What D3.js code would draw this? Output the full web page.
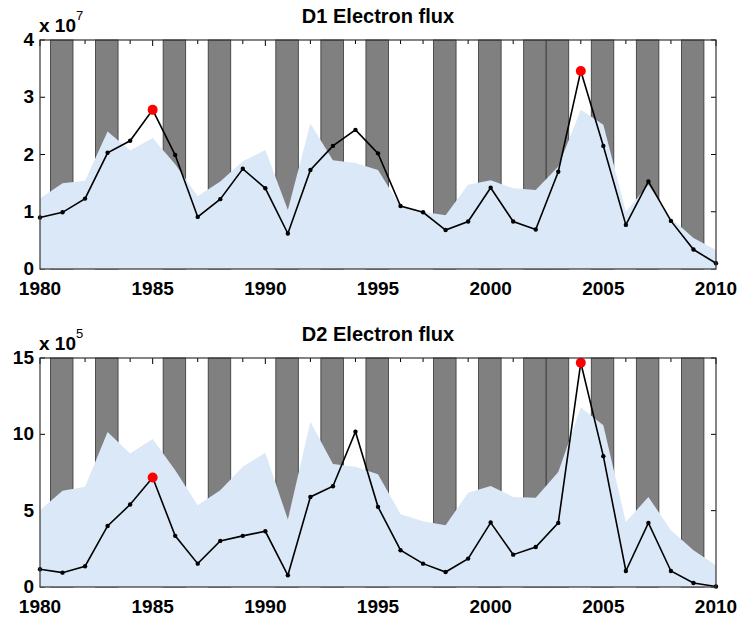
<!DOCTYPE html>
<meta charset="utf-8">
<style>
body { margin: 0; background: #fff; }
text { font-family: "Liberation Sans", Arial, sans-serif; font-weight: bold; fill: #000; }
</style>
<svg width="741" height="617"></svg>
<script src="https://d3js.org/d3.v7.min.js"></script>
<script>

var years = d3.range(1980, 2011);

// D1 electron flux (units of 1e7)
var d1Flux = [0.90, 0.99, 1.23, 2.03, 2.24, 2.78, 1.99, 0.91, 1.22, 1.75,
              1.41, 0.62, 1.73, 2.15, 2.43, 2.02, 1.10, 0.99, 0.68, 0.83,
              1.42, 0.83, 0.69, 1.70, 3.46, 2.15, 0.77, 1.53, 0.84, 0.34, 0.10];
var d1Band = [1.23, 1.50, 1.54, 2.40, 2.07, 2.29, 1.83, 1.27, 1.53, 1.88,
              2.08, 1.03, 2.54, 1.90, 1.85, 1.73, 1.09, 1.00, 0.94, 1.47,
              1.55, 1.41, 1.38, 1.79, 2.78, 2.52, 1.00, 1.47, 0.89, 0.54, 0.33];

// D2 electron flux (units of 1e5)
var d2Flux = [1.16, 0.94, 1.36, 4.00, 5.40, 7.17, 3.35, 1.53, 3.02, 3.35,
              3.65, 0.77, 5.90, 6.60, 10.17, 5.25, 2.41, 1.53, 0.98, 1.86,
              4.22, 2.12, 2.62, 4.20, 14.69, 8.57, 1.05, 4.20, 1.05, 0.26, 0.03];
var d2Band = [5.03, 6.30, 6.56, 10.16, 8.75, 9.69, 7.65, 5.36, 6.34, 7.87,
              8.79, 4.42, 10.82, 8.05, 7.87, 7.39, 4.77, 4.31, 4.05, 6.17,
              6.62, 5.90, 5.84, 7.54, 11.76, 10.60, 4.26, 5.90, 3.72, 2.41, 1.42];

var barYears = [1981, 1983, 1986, 1988, 1991, 1993, 1995, 1998, 2000, 2002, 2003, 2005, 2007, 2009];
var redYears = [1985, 2004];
var xTickLabels = [1980, 1985, 1990, 1995, 2000, 2005, 2010];

var svg = d3.select("svg");
svg.append("rect").attr("width", 741).attr("height", 617).attr("fill", "#fff");

var x = d3.scaleLinear().domain([1980, 2010]).range([40, 716]);

function panel(o) {
  var g = svg.append("g");
  var y = d3.scaleLinear().domain([0, o.max]).range([o.bottom, o.top]);
  var yTicks = d3.range(0, o.max + 0.001, o.step);

  // ticks (under the bars)
  g.selectAll(".tt").data(years).enter().append("line")
      .attr("x1", function(d) { return x(d); }).attr("x2", function(d) { return x(d); })
      .attr("y1", o.top).attr("y2", function(d) { return o.top + (d % 5 == 0 ? 6 : 4); })
      .attr("stroke", "#000").attr("stroke-width", 1);
  g.selectAll(".ty").data(yTicks).enter().append("line")
      .attr("x1", 711).attr("x2", 716)
      .attr("y1", function(d) { return y(d); }).attr("y2", function(d) { return y(d); })
      .attr("stroke", "#000");
  g.selectAll(".tyl").data(yTicks).enter().append("line")
      .attr("x1", 40).attr("x2", 45)
      .attr("y1", function(d) { return y(d); }).attr("y2", function(d) { return y(d); })
      .attr("stroke", "#000");

  // gray bars
  g.selectAll(".bar").data(barYears).enter().append("rect")
      .attr("x", function(d) { return x(d - 0.5) - 0.8; })
      .attr("width", function(d) { return x(d + 0.5) - x(d - 0.5); })
      .attr("y", o.top)
      .attr("height", o.bottom - o.top)
      .attr("fill", "#808080")
      .attr("stroke", "#333").attr("stroke-width", 0.8);

  // light blue area
  var area = d3.area()
      .x(function(d, i) { return x(years[i]); })
      .y0(o.bottom)
      .y1(function(d) { return y(d); });
  g.append("path").datum(o.band).attr("d", area).attr("fill", "#dbe8f7");

  // flux line
  var line = d3.line()
      .x(function(d, i) { return x(years[i]); })
      .y(function(d) { return y(d); });
  g.append("path").datum(o.flux).attr("d", line)
      .attr("fill", "none").attr("stroke", "#000").attr("stroke-width", 1.6);
  g.selectAll(".pt").data(o.flux).enter().append("circle")
      .attr("cx", function(d, i) { return x(years[i]); })
      .attr("cy", function(d) { return y(d); })
      .attr("r", 2.2).attr("fill", "#000");

  g.selectAll(".red").data(redYears).enter().append("circle")
      .attr("cx", function(d) { return x(d); })
      .attr("cy", function(d) { return y(o.flux[d - 1980]); })
      .attr("r", 5).attr("fill", "#f00");

  // box
  g.append("rect").attr("x", 40).attr("y", o.top)
      .attr("width", 676).attr("height", o.bottom - o.top)
      .attr("fill", "none").attr("stroke", "#333").attr("stroke-width", 1.2);

  // labels
  g.selectAll(".xl").data(xTickLabels).enter().append("text")
      .attr("x", function(d) { return x(d); })
      .attr("y", o.bottom + 26)
      .attr("text-anchor", "middle")
      .style("font-size", "19px")
      .text(function(d) { return d; });
  g.selectAll(".yl").data(yTicks).enter().append("text")
      .attr("x", 34)
      .attr("y", function(d) { return y(d) + 6; })
      .attr("text-anchor", "end")
      .style("font-size", "19px")
      .text(function(d) { return d; });

  g.append("text").attr("x", 378).attr("y", o.top - 17)
      .attr("text-anchor", "middle").style("font-size", "20px")
      .text(o.title);

  var ex = g.append("text").attr("x", 39).attr("y", o.top - 8).style("font-size", "19px");
  ex.append("tspan").text("x 10");
  ex.append("tspan").attr("dy", -12).style("font-size", "13px").style("font-weight", "normal").text(o.exp);
}

panel({ title: "D1 Electron flux", top: 40, bottom: 269, max: 4, step: 1, exp: "7", flux: d1Flux, band: d1Band });
panel({ title: "D2 Electron flux", top: 358, bottom: 587, max: 15, step: 5, exp: "5", flux: d2Flux, band: d2Band });

</script>
